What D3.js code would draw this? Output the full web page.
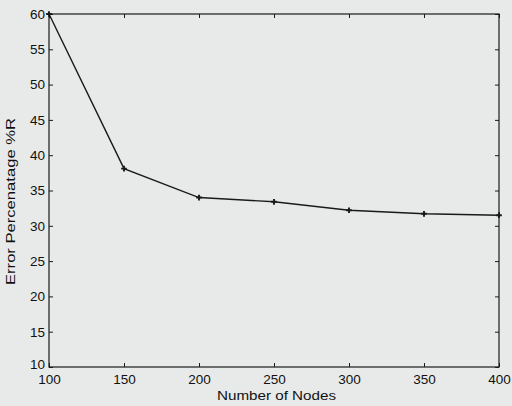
<!DOCTYPE html>
<html>
<head>
<meta charset="utf-8">
<script src="https://cdn.jsdelivr.net/npm/d3@7"></script>
<style>
  body { margin: 0; background: #e8eae9; }
  svg { display: block; }
  text { font-family: "Liberation Sans", Arial, sans-serif; fill: #111; }
  .tick line { stroke: #1a1a1a; }
</style>
</head>
<body>
<svg id="chart"></svg>
<script>
const nodes = [100, 150, 200, 250, 300, 350, 400]
const errorPct = [60, 38.1, 34.0, 33.4, 32.2, 31.7, 31.5]
const yTicks = [10, 15, 20, 25, 30, 35, 40, 45, 50, 55, 60]

const width = 512
const height = 406
const margin = { top: 14, right: 13, bottom: 39, left: 49 }
const innerW = width - margin.left - margin.right
const innerH = height - margin.top - margin.bottom

const svg = d3.select('#chart')
    .attr('width', width)
    .attr('height', height)

svg.append('rect')
    .attr('width', width)
    .attr('height', height)
    .attr('fill', '#e8eae9')

const g = svg.append('g')
    .attr('transform', `translate(${margin.left},${margin.top})`)

const x = d3.scaleLinear().domain([100, 400]).range([0, innerW])
const y = d3.scaleLinear().domain([10, 60]).range([innerH, 0])

// inward ticks on all four sides, matlab style box
const tickLen = -4

g.append('g')
    .attr('transform', `translate(0,${innerH})`)
    .call(d3.axisBottom(x).tickValues(nodes).tickSize(tickLen).tickPadding(7))
    .call(a => a.select('.domain').remove())
    .selectAll('text').attr('font-size', 13.5)

g.append('g')
    .call(d3.axisTop(x).tickValues(nodes).tickSize(tickLen).tickFormat(''))
    .call(a => a.select('.domain').remove())

const yAxisG = g.append('g')
    .call(d3.axisLeft(y).tickValues(yTicks).tickSize(tickLen).tickPadding(4))
    .call(a => a.select('.domain').remove())

yAxisG.selectAll('text').attr('font-size', 13.5)
// lift the bottom label a little so it clears the "100" below it
yAxisG.selectAll('.tick').filter(d => d === 10).select('text').attr('y', -3)

g.append('g')
    .attr('transform', `translate(${innerW},0)`)
    .call(d3.axisRight(y).tickValues(yTicks).tickSize(tickLen).tickFormat(''))
    .call(a => a.select('.domain').remove())

g.append('rect')
    .attr('width', innerW)
    .attr('height', innerH)
    .attr('fill', 'none')
    .attr('stroke', '#1a1a1a')
    .attr('stroke-width', 1.2)

const data = nodes.map((n, i) => ({ n, v: errorPct[i] }))

const line = d3.line()
    .x(d => x(d.n))
    .y(d => y(d.v))

g.append('path')
    .attr('d', line(data))
    .attr('fill', 'none')
    .attr('stroke', '#1a1a1a')
    .attr('stroke-width', 1.4)

g.selectAll('.marker')
    .data(data)
    .join('path')
    .attr('class', 'marker')
    .attr('d', d3.symbol(d3.symbolCross, 18))
    .attr('transform', d => `translate(${x(d.n)},${y(d.v)})`)
    .attr('fill', '#1a1a1a')

// the scanned labels are stretched along their length, so fix the length
svg.append('text')
    .attr('x', 217)
    .attr('y', 400)
    .attr('font-size', 12)
    .attr('textLength', 119)
    .attr('lengthAdjust', 'spacingAndGlyphs')
    .text('Number of Nodes')

svg.append('text')
    .attr('transform', 'translate(15,285) rotate(-90)')
    .attr('font-size', 12)
    .attr('textLength', 167)
    .attr('lengthAdjust', 'spacingAndGlyphs')
    .text('Error Percenatage %R')
</script>
</body>
</html>
